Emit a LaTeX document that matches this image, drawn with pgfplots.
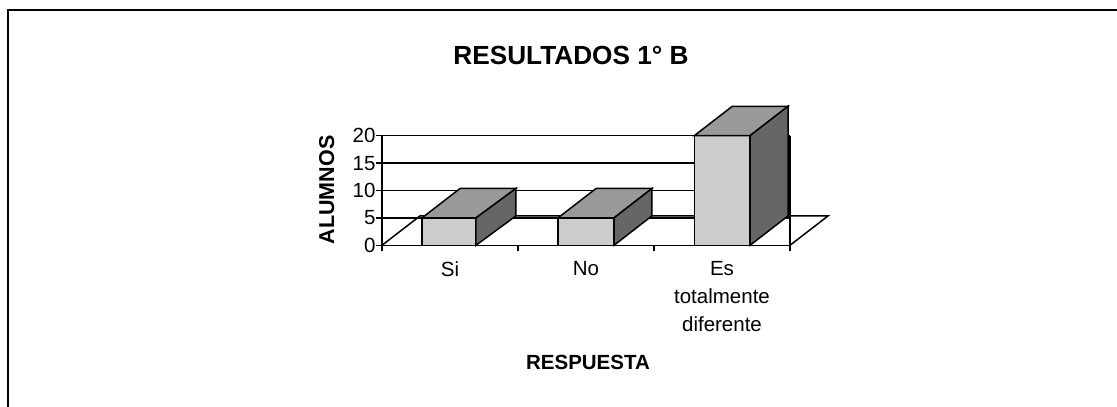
\documentclass[border=0pt]{standalone}
\usepackage{fontspec}
\setmainfont{Liberation Sans}
\usepackage{pgfplots}
\pgfplotsset{compat=1.18}
\begin{document}
\begin{tikzpicture}[x=1pt,y=1pt]
\path[use as bounding box] (0,0) rectangle (1117,407);
\draw[line width=2pt,black] (8,0) -- (8,397) -- (1117,397);
\begin{axis}[
  at={(382pt,161.7pt)}, anchor=origin,
  scale only axis, width=408pt, height=109.6pt,
  xmin=0, xmax=3, ymin=0, ymax=20,
  clip=false,
  axis x line*=bottom, axis y line*=left,
  axis line style={black,line width=1.5pt,-},
  ytick={0,5,10,15,20},
  ymajorgrids, grid style={black,line width=1.5pt},
  xtick={0,1,2,3}, xticklabels={},
  extra x ticks={0.5,1.5,2.5},
  extra x tick labels={Si,No,{Es\\totalmente\\diferente}},
  extra x tick style={major tick length=0pt},
  tick align=outside, major tick length=6pt,
  tick style={black,line width=1.5pt},
  /pgf/number format/assume math mode=true,
  tick label style={font=\fontsize{20.5}{28}\selectfont,black},
  x tick label style={align=center,yshift=-13pt},
  y tick label style={xshift=3pt},
  every axis plot/.append style={line width=1.5pt,draw=black,line join=miter},
]
% floor
\addplot[no marks,fill=none] coordinates {(0,0) (0.28,5.37) (3.28,5.37) (3,0)};
\addplot[no marks] coordinates {(3,5.37) (3,0)};
% back wall right edge
\addplot[no marks,line width=2.6pt] coordinates {(3,20) (3,5.37)};
% Si = 5
\addplot[no marks,fill=black!20] coordinates {(0.294,0) (0.691,0) (0.691,5) (0.294,5)} -- cycle;
\addplot[no marks,fill=black!40] coordinates {(0.294,5) (0.691,5) (0.985,10.37) (0.574,10.37)} -- cycle;
\addplot[no marks,fill=black!60] coordinates {(0.691,0) (0.985,5.37) (0.985,10.37) (0.691,5)} -- cycle;
% No = 5
\addplot[no marks,fill=black!20] coordinates {(1.294,0) (1.706,0) (1.706,5) (1.294,5)} -- cycle;
\addplot[no marks,fill=black!40] coordinates {(1.294,5) (1.706,5) (1.985,10.37) (1.574,10.37)} -- cycle;
\addplot[no marks,fill=black!60] coordinates {(1.706,0) (1.985,5.37) (1.985,10.37) (1.706,5)} -- cycle;
% Es totalmente diferente = 20
\addplot[no marks,fill=black!20] coordinates {(2.296,0) (2.706,0) (2.706,20) (2.296,20)} -- cycle;
\addplot[no marks,fill=black!40] coordinates {(2.296,20) (2.706,20) (2.986,25.37) (2.576,25.37)} -- cycle;
\addplot[no marks,fill=black!60] coordinates {(2.706,0) (2.986,5.37) (2.986,25.37) (2.706,20)} -- cycle;
\end{axis}
\node[anchor=base,inner sep=0pt,font=\fontsize{26.2}{30}\selectfont\bfseries] at (571,342) {RESULTADOS 1° B};
\node[anchor=base,inner sep=0pt,font=\fontsize{20.5}{24}\selectfont\bfseries] at (588,37) {RESPUESTA};
\node[anchor=base,inner sep=0pt,rotate=90,font=\fontsize{21.5}{24}\selectfont\bfseries] at (334,217) {ALUMNOS};
\end{tikzpicture}
\end{document}
